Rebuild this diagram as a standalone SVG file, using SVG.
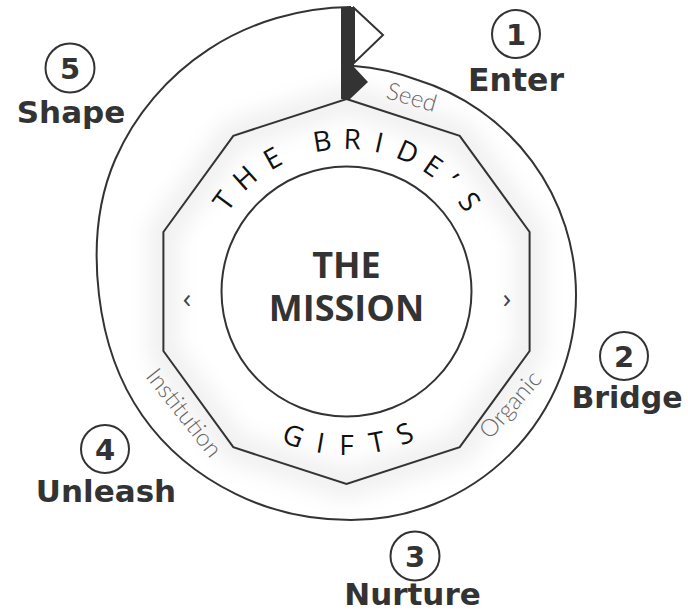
<svg xmlns="http://www.w3.org/2000/svg" width="688" height="611" viewBox="0 0 688 611">
<defs>
<filter id="soft" x="-20%" y="-20%" width="140%" height="140%"><feGaussianBlur stdDeviation="10"/></filter>
</defs>
<style>
.ln{fill:none;stroke:#333;stroke-width:2}
.lbl{font-family:"DejaVu Sans",sans-serif;font-weight:bold;fill:#333;text-anchor:middle}
.num{font-family:"DejaVu Sans",sans-serif;font-weight:bold;fill:#333;text-anchor:middle;font-size:29px}
.arc{font-family:"Open Sans",sans-serif;font-size:28px;fill:#111;text-anchor:middle}
.side{font-family:Lato,sans-serif;font-weight:300;font-size:24px;fill:#666;text-anchor:middle}
.chev{font-family:"Open Sans",sans-serif;font-size:28px;fill:#444;text-anchor:middle}
</style>
<rect width="688" height="611" fill="#fff"/>
<polygon points="346.5,99 459.7,135.8 529.6,232 529.6,351 459.7,447.2 346.5,484 233.3,447.2 163.4,351 163.4,232 233.3,135.8" fill="none" stroke="#000" stroke-opacity="0.055" stroke-width="32" filter="url(#soft)"/>
<g id="connectors">
<path class="ln" d="M351,7 C300.5,7.5 250.8,21.8 209,49.1 C167.2,76.4 134.6,115 115.4,159 C96.2,203 93.8,250.8 99,295 C104.2,339.2 118,380.7 142.3,415.5 C166.6,450.3 199.7,476.4 236,494.2 C272.3,512 311.5,520 351,520 A225,225 0 0 0 576,295 A225,225 0 0 0 416.8,79.8 A227,227 0 0 0 354,66"/>
<polygon points="354,8 383,35 354,63" fill="#fff" stroke="#333" stroke-width="2"/>
<polygon points="341,7 354,7 354,67 368,82 350,99 341,99" fill="#333"/>
</g>
<g id="ring">
<polygon class="ln" points="346.5,99 459.7,135.8 529.6,232 529.6,351 459.7,447.2 346.5,484 233.3,447.2 163.4,351 163.4,232 233.3,135.8"/>
<g class="arc">
<text x="346.5" y="149" transform="rotate(-53.5 346.5 291.5)">T</text>
<text x="346.5" y="149" transform="rotate(-41.8 346.5 291.5)">H</text>
<text x="346.5" y="149" transform="rotate(-29.1 346.5 291.5)">E</text>
<text x="346.5" y="149" transform="rotate(-9.2 346.5 291.5)">B</text>
<text x="346.5" y="149" transform="rotate(2.2 346.5 291.5)">R</text>
<text x="346.5" y="149" transform="rotate(12.4 346.5 291.5)">I</text>
<text x="346.5" y="149" transform="rotate(23.7 346.5 291.5)">D</text>
<text x="346.5" y="149" transform="rotate(34.6 346.5 291.5)">E</text>
<text x="346.5" y="149" transform="rotate(43.5 346.5 291.5)">’</text>
<text x="346.5" y="149" transform="rotate(53.9 346.5 291.5)">S</text>
<text x="346.5" y="455" transform="rotate(20.2 346.5 291.5)">G</text>
<text x="346.5" y="455" transform="rotate(9.7 346.5 291.5)">I</text>
<text x="346.5" y="455" transform="rotate(0 346.5 291.5)">F</text>
<text x="346.5" y="455" transform="rotate(-11.4 346.5 291.5)">T</text>
<text x="346.5" y="455" transform="rotate(-22.2 346.5 291.5)">S</text>
</g>
<text class="chev" x="187" y="308">‹</text>
<text class="chev" x="507" y="308">›</text>
<text class="side" transform="translate(409.5,105) rotate(16)">Seed</text>
<text class="side" transform="translate(516.5,410) rotate(-49)">Organic</text>
<text class="side" transform="translate(177.6,417.7) rotate(51.6)">Institution</text>
</g>
<g id="center">
<circle class="ln" cx="346.5" cy="291.5" r="125" fill="#fff"/>
<text font-family="'Open Sans',sans-serif" font-weight="bold" font-size="36" fill="#333" text-anchor="middle"><tspan x="346.5" y="278">THE</tspan><tspan x="346.5" y="321">MISSION</tspan></text>
</g>
<g id="step1">
<circle class="ln" cx="516" cy="34" r="24"/>
<text class="num" x="516" y="45">1</text>
<text class="lbl" x="516" y="91" font-size="31.5">Enter</text>
</g>
<g id="step2">
<circle class="ln" cx="624" cy="356" r="24"/>
<text class="num" x="624" y="367">2</text>
<text class="lbl" x="627" y="408" font-size="30">Bridge</text>
</g>
<g id="step3">
<circle class="ln" cx="415" cy="556" r="24.5"/>
<text class="num" x="415" y="567">3</text>
<text class="lbl" x="412.5" y="605" font-size="31">Nurture</text>
</g>
<g id="step4">
<circle class="ln" cx="105" cy="449" r="24"/>
<text class="num" x="105" y="460">4</text>
<text class="lbl" x="106" y="502" font-size="31">Unleash</text>
</g>
<g id="step5">
<circle class="ln" cx="70" cy="68" r="24.5"/>
<text class="num" x="70" y="79">5</text>
<text class="lbl" x="71" y="123" font-size="31">Shape</text>
</g>
</svg>
